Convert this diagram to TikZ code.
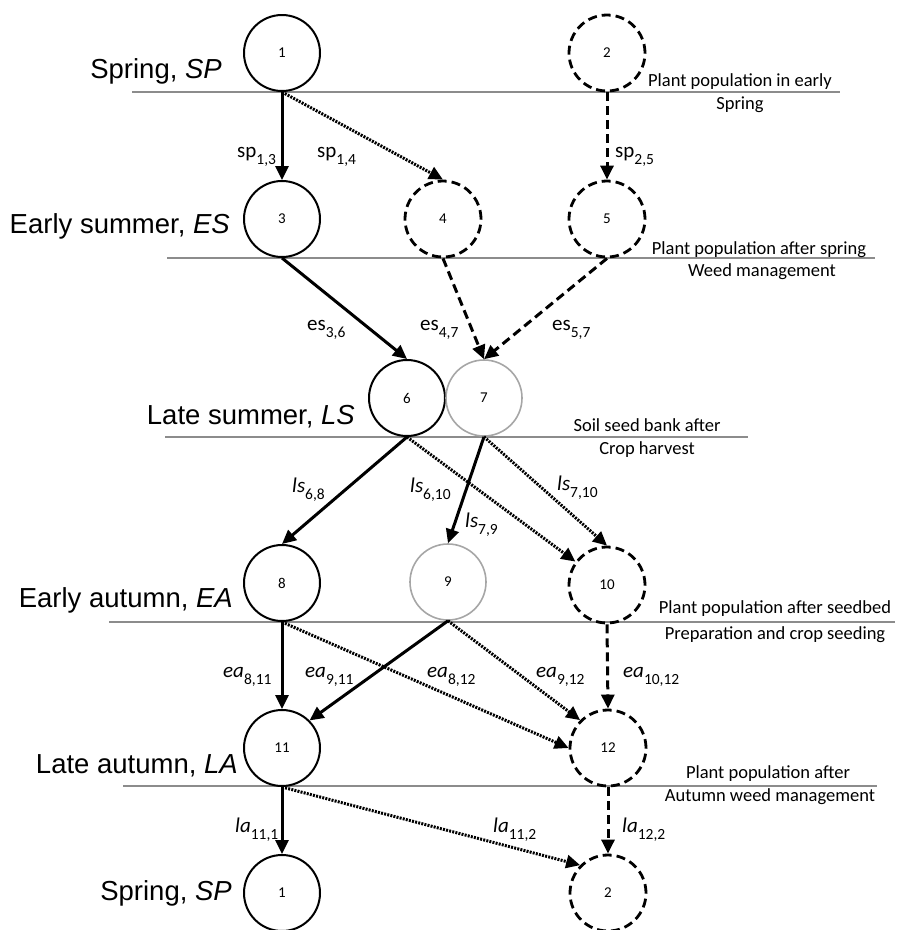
\documentclass[tikz,border=0pt]{standalone}
\usepackage{fontspec}
\setmainfont{Carlito}
\newfontfamily\arialf{Liberation Sans}
\usetikzlibrary{arrows.meta}
\newcommand\sbs[1]{\raisebox{-7pt}{\fontsize{15.5}{15}\selectfont #1}}
\begin{document}
\begin{tikzpicture}[x=1pt,y=-1pt,
  st/.style={circle, draw, line width=2pt, minimum size=76pt, inner sep=0pt, font=\fontsize{15}{15}\selectfont},
  dst/.style={st, dash pattern=on 9pt off 5pt, line width=2.8pt},
  gst/.style={st, draw=black!35, line width=1.6pt},
  sarr/.style={line width=3pt, -{Triangle[length=14pt,width=13pt]}},
  darr/.style={line width=3pt, dash pattern=on 9pt off 5pt, -{Triangle[length=14pt,width=13pt]}},
  oarr/.style={line width=3pt, dash pattern=on 2pt off 1.2pt, -{Triangle[length=14pt,width=13pt]}},
  seas/.style={anchor=base east, font=\arialf\fontsize{27.5}{27.5}\selectfont, inner sep=0pt},
  rlab/.style={anchor=base, font=\fontsize{18.5}{18.5}\selectfont, inner sep=0pt},
  elab/.style={anchor=base west, font=\fontsize{21}{21}\selectfont, inner sep=0pt},
  gline/.style={draw=black!45, line width=1.2pt}
]
\useasboundingbox (0,0) rectangle (914,930);
% season lines
\draw[gline] (132,92) -- (840,92);
\draw[gline] (167,258) -- (875,258);
\draw[gline] (165,437) -- (748,437);
\draw[gline] (109,622) -- (895,622);
\draw[gline] (123,786) -- (877,786);
% nodes
\node[st]  (n1)  at (282,53)  {1};
\node[dst] (n2)  at (607,53)  {2};
\node[st]  (n3)  at (282,219) {3};
\node[dst] (n4)  at (443,219) {4};
\node[dst] (n5)  at (607,219) {5};
\node[st]  (n6)  at (407,398) {6};
\node[gst] (n7)  at (484,398) {7};
\node[st]  (n8)  at (282,583) {8};
\node[gst] (n9)  at (448,582) {9};
\node[dst] (n10) at (607,585) {10};
\node[st]  (n11) at (282,748) {11};
\node[dst] (n12) at (608,748) {12};
\node[st]  (b1)  at (282,893) {1};
\node[dst] (b2)  at (608,893) {2};
% season labels
\node[seas] (s1) at (222,78)  {Spring, \textit{SP}};
\node[seas] (s2) at (230,233) {Early summer, \textit{ES}};
\node[seas] (s3) at (355,424) {Late summer, \textit{LS}};
\node[seas] (s4) at (233,607) {Early autumn, \textit{EA}};
\node[seas] (s5) at (238,773) {Late autumn, \textit{LA}};
\node[seas] (s6) at (232,900) {Spring, \textit{SP}};
% right labels
\node[rlab] (r1a) at (740,86)  {Plant population in early};
\node[rlab] (r1b) at (740,109) {Spring};
\node[rlab] (r2a) at (759,254) {Plant population after spring};
\node[rlab] (r2b) at (762,276) {Weed management};
\node[rlab] (r3a) at (647,431) {Soil seed bank after};
\node[rlab] (r3b) at (647,454) {Crop harvest};
\node[rlab] (r4a) at (775,613) {Plant population after seedbed};
\node[rlab] (r4b) at (775,639) {Preparation and crop seeding};
\node[rlab] (r5a) at (768,778) {Plant population after};
\node[rlab] (r5b) at (770,801) {Autumn weed management};
% connectors
\draw[sarr] (n1.south) -- (n3.north);
\draw[oarr] (n1.south) -- (n4.north);
\draw[darr] (n2.south) -- (n5.north);
\draw[sarr] (n3.south) -- (n6.north);
\draw[darr] (n4.south) -- (n7.north);
\draw[darr] (n5.south) -- (n7.north);
\draw[sarr] (n6.south) -- (n8.north);
\draw[oarr] (n6.south) -- (n10);
\draw[sarr] (n7.south) -- (n9.north);
\draw[oarr] (n7.south) -- (n10.north);
\draw[sarr] (n8.south) -- (n11.north);
\draw[oarr] (n8.south) -- (n12.west);
\draw[sarr] (n9.south) -- (n11.north east);
\draw[oarr] (n9.south) -- (n12.north west);
\draw[darr] (n10.south) -- (n12.north);
\draw[sarr] (n11.south) -- (b1.north);
\draw[oarr] (n11.south) -- (b2.north west);
\draw[darr] (n12.south) -- (b2.north);
% edge labels
\node[elab] (l1) at (237,157) {sp\sbs{1,3}};
\node[elab] (l2) at (317,157) {sp\sbs{1,4}};
\node[elab] (l3) at (615,157) {sp\sbs{2,5}};
\node[elab] (l4) at (307,330) {es\sbs{3,6}};
\node[elab] (l5) at (420,330) {es\sbs{4,7}};
\node[elab] (l6) at (552,330) {es\sbs{5,7}};
\node[elab] (l7) at (292,492) {\textit{ls}\sbs{6,8}};
\node[elab] (l8) at (410,492) {\textit{ls}\sbs{6,10}};
\node[elab] (l9) at (465,527) {\textit{ls}\sbs{7,9}};
\node[elab] (l10) at (557,490) {\textit{ls}\sbs{7,10}};
\node[elab] (l11) at (223,677) {\textit{ea}\sbs{8,11}};
\node[elab] (l12) at (305,677) {\textit{ea}\sbs{9,11}};
\node[elab] (l13) at (427,677) {\textit{ea}\sbs{8,12}};
\node[elab] (l14) at (536,677) {\textit{ea}\sbs{9,12}};
\node[elab] (l15) at (623,677) {\textit{ea}\sbs{10,12}};
\node[elab] (l16) at (235,832) {\textit{la}\sbs{11,1}};
\node[elab] (l17) at (493,832) {\textit{la}\sbs{11,2}};
\node[elab] (l18) at (622,832) {\textit{la}\sbs{12,2}};
\end{tikzpicture}
\end{document}
